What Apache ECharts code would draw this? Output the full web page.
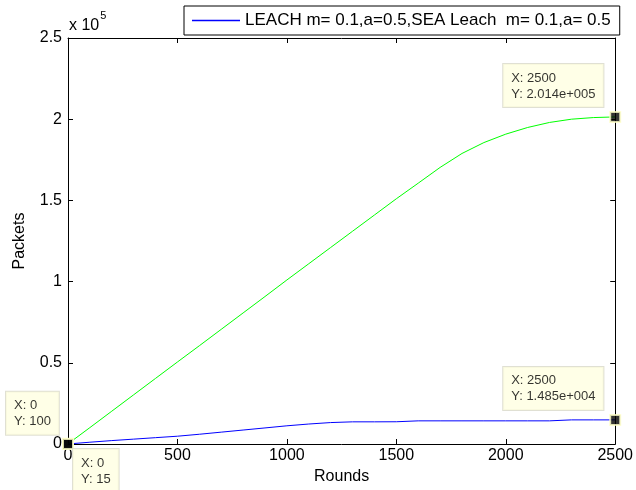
<!DOCTYPE html>
<html>
<head>
<meta charset="utf-8">
<script src="https://cdn.jsdelivr.net/npm/echarts@6/dist/echarts.min.js"></script>
<style>html,body{margin:0;padding:0;background:#fff}#c{width:636px;height:490px}</style>
</head>
<body>
<div id="c"></div>
<script>
// ---- data ----
const rounds = [0,100,200,300,400,500,600,700,800,900,1000,1100,1200,1300,1400,1500,1600,1700,1800,1900,2000,2100,2200,2300,2400,2500];
const seaLeach = [100,10100,20200,30300,40400,50500,60500,70600,80700,90800,101000,111000,121000,131000,141000,151000,160600,170300,178900,185600,190800,194900,198000,200000,201000,201400];
const leach = [15,1100,2100,3000,3900,4800,6000,7300,8600,9900,11200,12300,13200,13650,13650,13700,14250,14250,14250,14250,14250,14250,14250,14850,14850,14850];
const xTicks = [0,500,1000,1500,2000,2500];
const yTicks = [0,50000,100000,150000,200000,250000];
const legendText = 'LEACH m= 0.1,a=0.5,SEA Leach  m= 0.1,a= 0.5';

function g4(v){
  if (v === 0) return '0';
  const e = Math.floor(Math.log10(Math.abs(v)));
  if (e < -4 || e >= 4) {
    let s = v.toExponential(3).split('e');
    let m = s[0], ex = parseInt(s[1],10);
    const sign = ex < 0 ? '-' : '+';
    let d = String(Math.abs(ex)); while (d.length < 3) d = '0' + d;
    return m + 'e' + sign + d;
  }
  return String(parseFloat(v.toPrecision(4)));
}

const pairs = (xs, ys) => xs.map((x,i)=>[x, ys[i]]);
const last = a => a[a.length-1];
const font = 'Liberation Sans, Arial, sans-serif';

const tipStyle = {
  show: true,
  color: '#000',
  fontFamily: font,
  fontSize: 13,
  lineHeight: 16,
  backgroundColor: '#ffffe1',
  borderColor: '#d8d8c8',
  borderWidth: 1,
  padding: [6, 8, 5, 8],
  align: 'left',
  verticalAlign: 'top',
  formatter: p => 'X: ' + p.value[0] + '\nY: ' + g4(p.value[1])
};
const marker = {symbol:'rect', symbolSize: 10, itemStyle:{color:'#000', borderColor:'#ffffc8', borderWidth:2}};

const chart = echarts.init(document.getElementById('c'), null, {renderer:'canvas'});
chart.setOption({
  animation: false,
  backgroundColor: '#fff',
  grid: {left: 68, top: 38, width: 550, height: 409, containLabel: false},
  legend: {
    data: [{name: legendText, icon: 'rect'}],
    left: 184, top: 6,
    itemWidth: 48, itemHeight: 1.5, itemGap: 5,
    padding: [6, 9, 6, 8],
    borderColor: '#000', borderWidth: 1, backgroundColor: '#fff',
    textStyle: {color: '#000', fontSize: 17, fontFamily: font}
  },
  xAxis: [{
    type: 'value', min: 0, max: 2500, interval: 500,
    name: 'Rounds', nameLocation: 'middle', nameGap: 25,
    nameTextStyle: {color:'#000', fontSize: 16, fontFamily: font},
    axisLine: {show: true, onZero: false, lineStyle: {color: '#000', width: 1}},
    axisTick: {show: true, inside: true, length: 5, lineStyle: {color: '#000'}},
    axisLabel: {color: '#000', fontSize: 16, fontFamily: font, margin: 4, formatter: v => xTicks.includes(v) ? String(v) : ''},
    splitLine: {show: false}
  },{
    type: 'value', position: 'top', min: 0, max: 2500, interval: 500,
    axisLine: {show: true, onZero: false, lineStyle: {color: '#000', width: 1}},
    axisTick: {show: true, inside: true, length: 5, lineStyle: {color: '#000'}},
    axisLabel: {show: false}, splitLine: {show: false}
  }],
  yAxis: [{
    type: 'value', min: 0, max: 250000, interval: 50000,
    name: 'Packets', nameLocation: 'middle', nameGap: 40, nameRotate: 90,
    nameTextStyle: {color:'#000', fontSize: 16, fontFamily: font},
    axisLine: {show: true, onZero: false, lineStyle: {color: '#000', width: 1}},
    axisTick: {show: true, inside: true, length: 5, lineStyle: {color: '#000'}},
    axisLabel: {color: '#000', fontSize: 16, fontFamily: font, margin: 6, formatter: v => yTicks.includes(v) ? String(v/1e5) : ''},
    splitLine: {show: false}
  },{
    type: 'value', position: 'right', min: 0, max: 250000, interval: 50000,
    axisLine: {show: true, onZero: false, lineStyle: {color: '#000', width: 1}},
    axisTick: {show: true, inside: true, length: 5, lineStyle: {color: '#000'}},
    axisLabel: {show: false}, splitLine: {show: false}
  }],
  graphic: [{
    type: 'text', left: 69, top: 10,
    style: {
      text: '{a|x 10}{b|5}',
      rich: {
        a: {fontSize: 16, fontFamily: font, fill: '#000', verticalAlign: 'bottom', lineHeight: 24},
        b: {fontSize: 11, fontFamily: font, fill: '#000', verticalAlign: 'top', lineHeight: 24, padding:[0,0,12,1]}
      }
    }
  }],
  series: [
    {name: 'SEA', type: 'line', data: pairs(rounds, seaLeach), showSymbol: false, smooth: false,
     lineStyle: {color: '#00ff00', width: 1}, itemStyle:{color:'#00ff00'}, z: 2},
    {name: legendText, type: 'line', data: pairs(rounds, leach), showSymbol: false, smooth: false,
     lineStyle: {color: '#0000ff', width: 1}, itemStyle:{color:'#0000ff'}, z: 2},
    Object.assign({type: 'scatter', z: 5, data: [
      {value: [last(rounds), last(seaLeach)], label: Object.assign({}, tipStyle, {position: [-106, -47]})},
      {value: [last(rounds), last(leach)], label: Object.assign({}, tipStyle, {position: [-106, -47]})},
      {value: [rounds[0], seaLeach[0]], label: Object.assign({}, tipStyle, {position: [-56, -46]})},
      {value: [rounds[0], leach[0]], label: Object.assign({}, tipStyle, {position: [11, 11]})}
    ]}, marker)
  ]
});
</script>
</body>
</html>
